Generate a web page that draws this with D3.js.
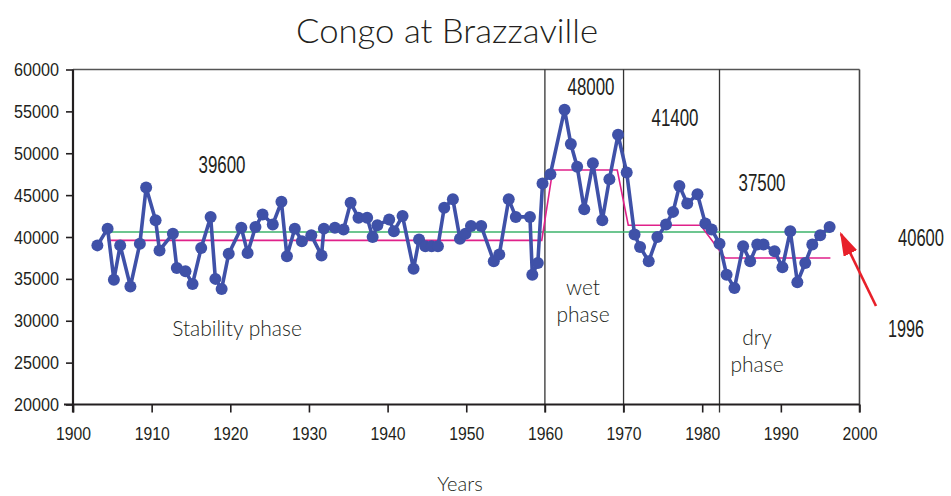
<!DOCTYPE html>
<html>
<head>
<meta charset="utf-8">
<script src="https://cdn.jsdelivr.net/npm/d3@7"></script>
<style>
  html, body { margin: 0; padding: 0; background: #fff; }
  svg { display: block; }
  .num { font-family: "Liberation Sans Narrow", "Liberation Sans", "Roboto", sans-serif; fill: #231f20; }
  .lt { font-family: "Lato", "Open Sans", sans-serif; font-weight: 300; fill: #231f20; }
</style>
</head>
<body>
<svg id="chart" width="951" height="496"></svg>
<script>
// Annual flow of the Congo at Brazzaville (m3/s), plotted at the observed dates
const years = [
  1903.1, 1904.4, 1905.2, 1906.0, 1907.3, 1908.5, 1909.3, 1910.5, 1911.0, 1912.7,
  1913.2, 1914.3, 1915.2, 1916.3, 1917.5, 1918.1, 1918.9, 1919.8, 1921.4, 1922.2,
  1923.2, 1924.1, 1925.4, 1926.5, 1927.2, 1928.2, 1929.1, 1930.3, 1931.6, 1931.9,
  1933.3, 1934.4, 1935.3, 1936.3, 1937.4, 1938.1, 1938.7, 1940.2, 1940.8, 1941.9,
  1943.3, 1944.0, 1944.8, 1945.6, 1946.4, 1947.2, 1948.3, 1949.2, 1949.9, 1950.6,
  1951.9, 1953.5, 1954.2, 1955.4, 1956.3, 1958.1, 1958.4, 1959.1, 1959.7, 1960.7,
  1962.5, 1963.3, 1964.1, 1965.0, 1966.1, 1967.3, 1968.2, 1969.3, 1970.4, 1971.4,
  1972.1, 1973.2, 1974.3, 1975.4, 1976.3, 1977.1, 1978.1, 1979.4, 1980.4, 1981.2,
  1982.2, 1983.1, 1984.1, 1985.2, 1986.1, 1987.0, 1987.8, 1989.2, 1990.2, 1991.2,
  1992.1, 1993.1, 1994.0, 1995.0, 1996.2
];
const flows = [
  39000, 41000, 34900, 39000, 34100, 39200, 45900, 42000, 38400, 40400,
  36300, 35900, 34400, 38700, 42400, 35000, 33800, 38000, 41100, 38100,
  41200, 42700, 41500, 44200, 37700, 41000, 39500, 40200, 37800, 41000,
  41100, 40900, 44100, 42300, 42300, 40000, 41400, 42100, 40700, 42500,
  36200, 39700, 38900, 38900, 38900, 43500, 44500, 39800, 40400, 41300,
  41300, 37100, 37900, 44500, 42400, 42400, 35500, 36900, 46400, 47500,
  55200, 51100, 48400, 43300, 48800, 42000, 46900, 52200, 47700, 40300,
  38800, 37100, 40000, 41500, 43000, 46100, 44000, 45100, 41600, 40900,
  39200, 35500, 33900, 38900, 37100, 39100, 39100, 38300, 36400, 40700,
  34600, 36900, 39100, 40200, 41200
];

// Phases: mean flow of each period and the dates it spans
const phaseStart = [1904.4, 1961.0, 1970.6, 1982.9];
const phaseEnd   = [1959.6, 1969.2, 1979.8, 1996.3];
const phaseMean  = [39600, 48000, 41400, 37500];
const phaseNames = [["Stability phase"], ["wet", "phase"], [], ["dry", "phase"]];
const breakYears = [1960, 1970, 1982.2];

// Long-term mean
const overallMean = 40600;
const meanSpan = [1904.4, 1996.3];
const lastYear = 1996;

const yTicks = [20000, 25000, 30000, 35000, 40000, 45000, 50000, 55000, 60000];
const xTicks = [1900, 1910, 1920, 1930, 1940, 1950, 1960, 1970, 1980, 1990, 2000];

const svg = d3.select("#chart");
const x = d3.scaleLinear().domain([1900, 2000]).range([73, 859.5]);
const y = d3.scaleLinear().domain([20000, 60000]).range([404.5, 69.5]);

const ink = "#231f20";

// Narrow numerals: horizontally squeezed to a given width around their centre
function narrowText(cx, baseline, str, size, width) {
  const t = svg.append("text").attr("class", "num")
    .attr("font-size", size).attr("text-anchor", "middle").text(str);
  const w = t.node().getComputedTextLength();
  t.attr("transform", `translate(${cx},${baseline}) scale(${width / w},1)`);
  return t;
}

// Title
svg.append("text").attr("class", "lt")
  .attr("x", 447).attr("y", 42.5)
  .attr("text-anchor", "middle")
  .attr("font-size", 33)
  .attr("textLength", 302).attr("lengthAdjust", "spacingAndGlyphs")
  .text("Congo at Brazzaville");

// Frame top and right
svg.append("line")
  .attr("x1", x(1900)).attr("x2", x(2000))
  .attr("y1", y(60000)).attr("y2", y(60000))
  .attr("stroke", "#555").attr("stroke-width", 1.6);
svg.append("line")
  .attr("x1", x(2000)).attr("x2", x(2000))
  .attr("y1", y(60000)).attr("y2", y(20000) + 8)
  .attr("stroke", "#444").attr("stroke-width", 1.6);

// Phase boundaries
svg.append("g").selectAll("line").data(breakYears).join("line")
  .attr("x1", d => x(d)).attr("x2", d => x(d))
  .attr("y1", y(60000)).attr("y2", y(20000) + 8)
  .attr("stroke", "#333").attr("stroke-width", 1.3);

// Y axis
const yAxis = svg.append("g")
  .attr("transform", `translate(${x(1900)},0)`)
  .call(d3.axisLeft(y).tickValues(yTicks).tickSize(7).tickSizeOuter(0).tickPadding(7)
    .tickFormat(d3.format("d")));
yAxis.select(".domain").remove();
yAxis.selectAll(".tick line").attr("stroke", ink).attr("stroke-width", 1.6);
yAxis.selectAll(".tick text").attr("class", "num")
  .attr("font-size", 19)
  .attr("textLength", 45).attr("lengthAdjust", "spacingAndGlyphs");

// X axis
const xAxis = svg.append("g")
  .attr("transform", `translate(0,${y(20000)})`)
  .call(d3.axisBottom(x).tickValues(xTicks).tickSize(8).tickSizeOuter(0).tickPadding(14)
    .tickFormat(d3.format("d")));
xAxis.select(".domain").remove();
xAxis.selectAll(".tick line").attr("stroke", ink).attr("stroke-width", 1.6);
xAxis.selectAll(".tick text").attr("class", "num")
  .attr("font-size", 19)
  .attr("textLength", 35).attr("lengthAdjust", "spacingAndGlyphs");

// Axis lines
svg.append("line")
  .attr("x1", x(1900) - 9).attr("x2", x(2000))
  .attr("y1", y(20000)).attr("y2", y(20000))
  .attr("stroke", ink).attr("stroke-width", 2.2);
svg.append("line")
  .attr("x1", x(1900)).attr("x2", x(1900))
  .attr("y1", y(60000)).attr("y2", y(20000) + 8)
  .attr("stroke", ink).attr("stroke-width", 2.2);

// Long-term mean (green)
svg.append("line")
  .attr("x1", x(meanSpan[0])).attr("x2", x(meanSpan[1]))
  .attr("y1", y(overallMean)).attr("y2", y(overallMean))
  .attr("stroke", "#3db36b").attr("stroke-width", 1.6);

// Phase means (magenta step line)
const phasePts = [];
phaseMean.forEach((m, i) => {
  phasePts.push([phaseStart[i], m]);
  phasePts.push([phaseEnd[i], m]);
});
svg.append("path")
  .datum(phasePts)
  .attr("fill", "none")
  .attr("stroke", "#e0218a").attr("stroke-width", 1.6)
  .attr("d", d3.line().x(d => x(d[0])).y(d => y(d[1])));

// Flow series
const series = years.map((t, i) => [t, flows[i]]);
svg.append("path")
  .datum(series)
  .attr("fill", "none")
  .attr("stroke", "#3f51a8").attr("stroke-width", 3.6)
  .attr("stroke-linejoin", "round")
  .attr("d", d3.line().x(d => x(d[0])).y(d => y(d[1])));
svg.append("g").selectAll("circle").data(series).join("circle")
  .attr("cx", d => x(d[0])).attr("cy", d => y(d[1]))
  .attr("r", 6).attr("fill", "#3f51a8");

// Phase mean values (label centre x, baseline y)
const meanLabelPos = [[222, 173], [591, 95], [675, 126], [762, 191]];
phaseMean.forEach((m, i) => {
  narrowText(meanLabelPos[i][0], meanLabelPos[i][1], d3.format("d")(m), 24, 47);
});

// Phase names (centre x, first baseline y)
const namePos = [[237, 336], [583, 295], null, [757, 345]];
phaseNames.forEach((lines, i) => {
  if (!lines.length) return;
  const t = svg.append("text").attr("class", "lt")
    .attr("x", namePos[i][0]).attr("y", namePos[i][1])
    .attr("text-anchor", "middle").attr("font-size", 21);
  lines.forEach((s, k) => {
    t.append("tspan").attr("x", namePos[i][0]).attr("dy", k === 0 ? 0 : 27).text(s);
  });
});

// Overall mean label and last-year pointer
narrowText(921, 246, d3.format("d")(overallMean), 24, 46);
narrowText(906, 337, String(lastYear), 24, 36);

svg.append("defs").append("marker")
  .attr("id", "head").attr("viewBox", "0 0 10 10")
  .attr("refX", 9).attr("refY", 5)
  .attr("markerWidth", 24).attr("markerHeight", 15)
  .attr("markerUnits", "userSpaceOnUse")
  .attr("orient", "auto")
  .attr("preserveAspectRatio", "none")
  .append("path").attr("d", "M0,0 L10,5 L0,10 Z").attr("fill", "#e8202a");
svg.append("line")
  .attr("x1", 876).attr("y1", 306)
  .attr("x2", 841).attr("y2", 234)
  .attr("stroke", "#e8202a").attr("stroke-width", 2.6)
  .attr("marker-end", "url(#head)");

// Axis title
svg.append("text").attr("class", "lt")
  .attr("x", 460).attr("y", 491)
  .attr("text-anchor", "middle").attr("font-size", 20)
  .text("Years");
</script>
</body>
</html>
